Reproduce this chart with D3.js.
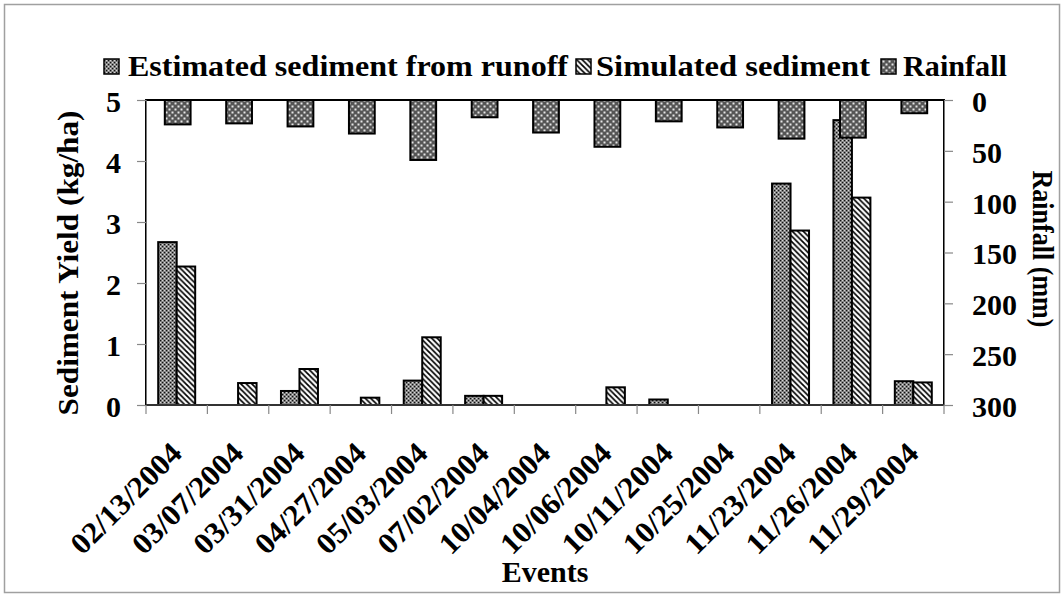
<!DOCTYPE html>
<html>
<head>
<meta charset="utf-8">
<script src="https://cdn.jsdelivr.net/npm/d3@7"></script>
<style>
  html, body { margin: 0; padding: 0; background: #fff; }
  svg text { font-family: "Liberation Serif", "Times New Roman", serif; font-weight: bold; fill: #000; }
</style>
</head>
<body>
<svg id="chart" width="1064" height="596"></svg>
<script>
// Storm events and their values
const categories = ["02/13/2004","03/07/2004","03/31/2004","04/27/2004","05/03/2004","07/02/2004",
  "10/04/2004","10/06/2004","10/11/2004","10/25/2004","11/23/2004","11/26/2004","11/29/2004"];
const estimated = [2.67, 0, 0.23, 0, 0.40, 0.15, 0, 0, 0.09, 0, 3.63, 4.67, 0.39];   // kg/ha
const simulated = [2.27, 0.36, 0.59, 0.12, 1.11, 0.15, 0, 0.29, 0, 0, 2.86, 3.40, 0.37]; // kg/ha
const rainfall  = [24, 23, 26, 33, 59, 17, 32, 46, 21, 27, 38, 37, 13];               // mm
const sedimentTicks = [0, 1, 2, 3, 4, 5];
const rainTicks = [0, 50, 100, 150, 200, 250, 300];
const seriesNames = ["Estimated sediment from runoff", "Simulated sediment", "Rainfall"];

const svg = d3.select("#chart");
const W = 1064, H = 596;
const plot = { left: 146, right: 944, top: 100, bottom: 405 };

// Fill patterns
const defs = svg.append("defs");
const pEst = defs.append("pattern").attr("id", "pat-est")
  .attr("patternUnits", "userSpaceOnUse").attr("width", 4).attr("height", 4);
pEst.append("rect").attr("width", 4).attr("height", 4).attr("fill", "#8a8a8a");
[[0,0],[2,2]].forEach(([x,y]) => pEst.append("rect").attr("x", x).attr("y", y).attr("width", 1.2).attr("height", 1.2).attr("fill", "#111"));
[[2,0],[0,2]].forEach(([x,y]) => pEst.append("rect").attr("x", x).attr("y", y).attr("width", 1).attr("height", 1).attr("fill", "#d8d8d8"));

const pSim = defs.append("pattern").attr("id", "pat-sim")
  .attr("patternUnits", "userSpaceOnUse").attr("width", 5.5).attr("height", 5.5);
pSim.append("rect").attr("width", 5.5).attr("height", 5.5).attr("fill", "#fff");
pSim.append("path").attr("d", "M-1,-1 L6.5,6.5 M-1,4.5 L1,6.5 M4.5,-1 L6.5,1")
  .attr("stroke", "#000").attr("stroke-width", 1.7);

const pRain = defs.append("pattern").attr("id", "pat-rain")
  .attr("patternUnits", "userSpaceOnUse").attr("width", 6).attr("height", 6);
pRain.append("rect").attr("width", 6).attr("height", 6).attr("fill", "#555");
[[0,0],[3,3]].forEach(([x,y]) => pRain.append("rect").attr("x", x + 0.5).attr("y", y + 0.5).attr("width", 2).attr("height", 2).attr("fill", "#e6e6e6"));

// Outer frame
svg.append("rect").attr("x", 4.5).attr("y", 4.5).attr("width", W - 9).attr("height", H - 8)
  .attr("fill", "#fff").attr("stroke", "#a0a0a0").attr("stroke-width", 1.5);

// Scales
const x = d3.scaleBand().domain(categories).range([plot.left, plot.right]).padding(0);
const xSeries = d3.scaleBand().domain(["est", "sim"]).range([0, x.bandwidth()]).paddingOuter(0.66).paddingInner(0);
const xRain = d3.scaleBand().domain(categories).range([plot.left + 1, plot.right + 1]).paddingInner(0.58).paddingOuter(0.29);
const ySed = d3.scaleLinear().domain([0, 5]).range([plot.bottom, plot.top]);
const yRain = d3.scaleLinear().domain([0, 300]).range([plot.top, plot.bottom]);

// Plot area
svg.append("rect").attr("x", plot.left).attr("y", plot.top)
  .attr("width", plot.right - plot.left).attr("height", plot.bottom - plot.top)
  .attr("fill", "#fff");

// Sediment bars
const sedData = categories.map((c, i) => [
  { cat: c, key: "est", v: estimated[i] },
  { cat: c, key: "sim", v: simulated[i] }
]).flat().filter(d => d.v > 0);

svg.append("g").selectAll("rect").data(sedData).join("rect")
  .attr("x", d => x(d.cat) + xSeries(d.key))
  .attr("y", d => ySed(d.v))
  .attr("width", xSeries.bandwidth())
  .attr("height", d => ySed(0) - ySed(d.v))
  .attr("fill", d => d.key === "est" ? "url(#pat-est)" : "url(#pat-sim)")
  .attr("stroke", "#000").attr("stroke-width", 2);

// Rainfall bars hang from the top
svg.append("g").selectAll("rect").data(categories.map((c, i) => ({ cat: c, v: rainfall[i] }))).join("rect")
  .attr("x", d => xRain(d.cat))
  .attr("y", yRain(0))
  .attr("width", xRain.bandwidth())
  .attr("height", d => yRain(d.v) - yRain(0))
  .attr("fill", "url(#pat-rain)")
  .attr("stroke", "#000").attr("stroke-width", 2);

// Plot border
svg.append("rect").attr("x", plot.left).attr("y", plot.top)
  .attr("width", plot.right - plot.left).attr("height", plot.bottom - plot.top)
  .attr("fill", "none").attr("stroke", "#000").attr("stroke-width", 2);

// Left axis
const axL = svg.append("g").attr("transform", `translate(${plot.left},0)`)
  .call(d3.axisLeft(ySed).tickValues(sedimentTicks).tickSize(9).tickPadding(16).tickFormat(d3.format("d")));
axL.select(".domain").attr("stroke", "#777");
axL.selectAll(".tick line").attr("stroke", "#888").attr("stroke-width", 1.2);
axL.selectAll(".tick text").attr("font-size", 30).attr("dy", "0.38em")
  .style("font-family", "Liberation Serif").style("font-weight", "bold").attr("fill", "#000");

// Right axis
const axR = svg.append("g").attr("transform", `translate(${plot.right},0)`)
  .call(d3.axisRight(yRain).tickValues(rainTicks).tickSize(9).tickPadding(19).tickFormat(d3.format("d")));
axR.select(".domain").attr("stroke", "#777");
axR.selectAll(".tick line").attr("stroke", "#888").attr("stroke-width", 1.2);
axR.selectAll(".tick text").attr("font-size", 30).attr("dy", "0.38em")
  .style("font-family", "Liberation Serif").style("font-weight", "bold").attr("fill", "#000");

// Bottom axis: ticks on category boundaries
const axB = svg.append("g").attr("transform", `translate(0,${plot.bottom})`);
axB.append("line").attr("x1", plot.left).attr("x2", plot.right).attr("stroke", "#333").attr("stroke-width", 2);
const boundaries = categories.map(c => x(c)).concat([x(categories[categories.length - 1]) + x.bandwidth()]);
axB.selectAll("line.tk").data(boundaries).join("line").attr("class", "tk")
  .attr("x1", d => d).attr("x2", d => d).attr("y1", 0).attr("y2", 9)
  .attr("stroke", "#888").attr("stroke-width", 1.2);
axB.selectAll("text").data(categories).join("text")
  .attr("transform", d => `translate(${x(d) + x.bandwidth() / 2 + 7},${50}) rotate(-45)`)
  .attr("text-anchor", "end")
  .attr("font-size", 30)
  .attr("textLength", 143).attr("lengthAdjust", "spacingAndGlyphs")
  .text(d => d);

// Axis titles
svg.append("text")
  .attr("transform", `translate(78,${263}) rotate(-90)`)
  .attr("text-anchor", "middle").attr("font-size", 30)
  .attr("textLength", 305).attr("lengthAdjust", "spacingAndGlyphs")
  .text("Sediment Yield (kg/ha)");
svg.append("text")
  .attr("transform", `translate(1033,${249}) rotate(90)`)
  .attr("text-anchor", "middle").attr("font-size", 30)
  .attr("textLength", 157).attr("lengthAdjust", "spacingAndGlyphs")
  .text("Rainfall (mm)");
svg.append("text")
  .attr("x", (plot.left + plot.right) / 2).attr("y", 582)
  .attr("text-anchor", "middle").attr("font-size", 30)
  .text("Events");

// Legend
const legendItems = [
  { name: seriesNames[0], fill: "url(#pat-est)", sx: 104, tx: 128, len: 440 },
  { name: seriesNames[1], fill: "url(#pat-sim)", sx: 576, tx: 596, len: 274 },
  { name: seriesNames[2], fill: "url(#pat-rain)", sx: 881, tx: 903, len: 104 }
];
const lg = svg.append("g");
lg.selectAll("rect").data(legendItems).join("rect")
  .attr("x", d => d.sx).attr("y", 59).attr("width", 15).attr("height", 15)
  .attr("fill", d => d.fill).attr("stroke", "#000").attr("stroke-width", 1.5);
lg.selectAll("text").data(legendItems).join("text")
  .attr("x", d => d.tx).attr("y", 76).attr("font-size", 30)
  .attr("textLength", d => d.len).attr("lengthAdjust", "spacingAndGlyphs")
  .text(d => d.name);
</script>
</body>
</html>
